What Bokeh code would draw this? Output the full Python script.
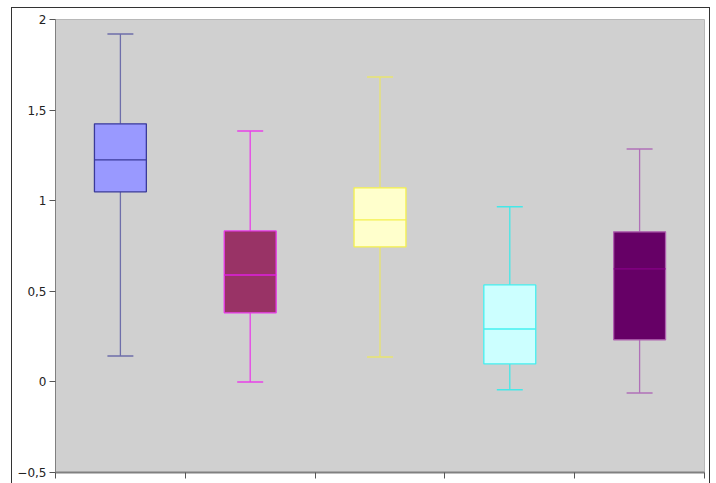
from bokeh.plotting import figure
from bokeh.models import FixedTicker, Range1d
from bokeh.embed import file_html
from bokeh.resources import INLINE

# Box statistics
positions = [0.5, 1.5, 2.5, 3.5, 4.5]
whisker_low = [0.143, 0.0, 0.138, -0.044, -0.061]
q1 = [1.049, 0.381, 0.745, 0.099, 0.232]
median = [1.225, 0.590, 0.894, 0.292, 0.624]
q3 = [1.424, 0.833, 1.071, 0.535, 0.828]
whisker_high = [1.920, 1.385, 1.683, 0.966, 1.286]

fill_colors = ["#9999ff", "#993366", "#ffffcc", "#ccffff", "#660066"]
line_colors = ["#3a3a9a", "#e838e8", "#f4f04c", "#44f0f0", "#b060b0"]
whisker_colors = ["#6e6eaa", "#e840e8", "#e8e470", "#44e8e8", "#b070b8"]
median_colors = ["#3a3a9a", "#e020e0", "#f4f04c", "#44f0f0", "#880088"]

y_ticks = [-0.5, 0, 0.5, 1, 1.5, 2]
y_labels = ["\u22120,5", "0", "0,5", "1", "1,5", "2"]
x_ticks = [0, 1, 2, 3, 4, 5]

p = figure(width=699, height=478, output_backend="svg", toolbar_location=None,
           x_range=Range1d(0, 5), y_range=Range1d(-0.5, 2),
           min_border_left=43, min_border_right=7, min_border_top=11, min_border_bottom=14)
p.styles = {"border": "1px solid #333333", "box-sizing": "border-box",
            "margin-left": "11px", "margin-top": "7px"}

p.background_fill_color = "#d0d0d0"
p.border_fill_color = "white"
p.outline_line_color = "#b8b8b8"
p.xgrid.visible = False
p.ygrid.visible = False

# axes
p.yaxis.ticker = FixedTicker(ticks=y_ticks)
p.yaxis.major_label_overrides = {t: l for t, l in zip(y_ticks, y_labels)}
p.yaxis.minor_tick_line_color = None
p.yaxis.axis_line_color = "#808080"
p.yaxis.major_tick_line_color = "#555555"
p.yaxis.major_tick_out = 6
p.yaxis.major_tick_in = 0
p.yaxis.major_label_text_font = "DejaVu Sans"
p.yaxis.major_label_text_font_size = "12px"
p.yaxis.major_label_text_color = "#222222"
p.yaxis.major_label_standoff = 3

p.xaxis.ticker = FixedTicker(ticks=x_ticks)
p.xaxis.major_label_overrides = {t: "" for t in x_ticks}
p.xaxis.minor_tick_line_color = None
p.xaxis.axis_line_color = "#808080"
p.xaxis.axis_line_width = 2
p.xaxis.major_tick_line_color = "#555555"
p.xaxis.major_tick_out = 6
p.xaxis.major_tick_in = 0
p.xaxis.major_label_text_font_size = "1px"
p.xaxis.major_label_standoff = 0

box_w = 0.4
cap_w = 0.2

for i, x in enumerate(positions):
    # whiskers
    p.segment(x0=[x, x], y0=[whisker_low[i], q3[i]], x1=[x, x], y1=[q1[i], whisker_high[i]],
              line_color=whisker_colors[i], line_width=1.3)
    # caps
    p.segment(x0=[x - cap_w / 2] * 2, y0=[whisker_low[i], whisker_high[i]],
              x1=[x + cap_w / 2] * 2, y1=[whisker_low[i], whisker_high[i]],
              line_color=whisker_colors[i], line_width=1.5)
    # box
    p.vbar(x=[x], width=box_w, bottom=[q1[i]], top=[q3[i]],
           fill_color=fill_colors[i], line_color=line_colors[i], line_width=1.3)
    # median
    p.segment(x0=[x - box_w / 2], y0=[median[i]], x1=[x + box_w / 2], y1=[median[i]],
              line_color=median_colors[i], line_width=1.3)

open("out.html", "w").write(file_html(p, INLINE))
